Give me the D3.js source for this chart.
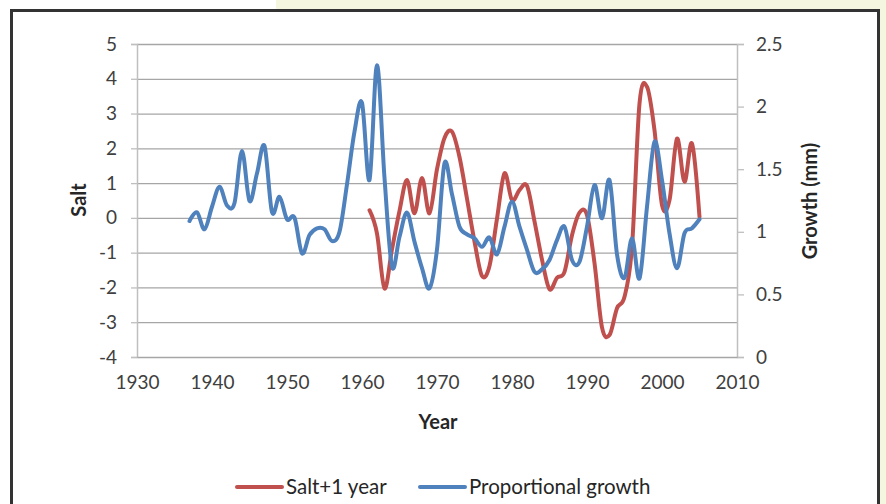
<!DOCTYPE html>
<html><head><meta charset="utf-8">
<script src="https://cdn.jsdelivr.net/npm/d3@7"></script>
<style>
html,body{margin:0;padding:0;background:#fff;}
svg{display:block;font-family:Lato,"Open Sans",sans-serif;}
</style></head>
<body><svg id="c" width="886" height="504"></svg>
<script>
const growthStart = 1937;
const growthValues = [1.086,1.156,1.02,1.20,1.36,1.21,1.23,1.645,1.246,1.467,1.685,1.156,1.28,1.10,1.113,0.828,0.974,1.028,1.02,0.926,1.0,1.38,1.80,2.03,1.414,2.33,1.43,0.72,0.96,1.153,0.92,0.71,0.549,0.86,1.547,1.30,1.04,0.98,0.948,0.88,0.955,0.82,1.041,1.241,1.041,0.855,0.68,0.70,0.775,0.934,1.041,0.775,0.761,1.041,1.374,1.108,1.414,0.82,0.632,0.948,0.628,1.2,1.72,1.414,0.988,0.708,0.988,1.028,1.1];
const saltStart = 1961;
const saltValues = [0.22,-0.45,-2.03,-0.9,0.2,1.09,0.13,1.15,0.13,1.4,2.3,2.48,1.75,0.55,-0.68,-1.67,-1.38,-0.02,1.28,0.51,0.8,0.92,-0.1,-1.2,-2.05,-1.72,-1.55,-0.5,0.15,0.08,-1.3,-3.15,-3.37,-2.6,-2.27,-0.83,3.29,3.77,2.52,0.37,0.51,2.28,1.04,2.14,0.03];
const xTicks = [1930,1940,1950,1960,1970,1980,1990,2000,2010];
const leftTicks = [-4,-3,-2,-1,0,1,2,3,4,5];
const rightTicks = [0,0.5,1,1.5,2,2.5];
const seriesNames = ["Salt+1 year","Proportional growth"];
const colors = ["#c0504d","#4f81bd"];

const svg = d3.select("#c");
// background
svg.append("rect").attr("x",0).attr("y",0).attr("width",886).attr("height",504).attr("fill","#f5f6df");
svg.append("rect").attr("x",0).attr("y",0).attr("width",276).attr("height",12).attr("fill","#fff");
svg.append("rect").attr("x",0).attr("y",0).attr("width",11).attr("height",504).attr("fill","#fff");
svg.append("rect").attr("x",11.5).attr("y",10.5).attr("width",867).attr("height",500)
  .attr("fill","#fff").attr("stroke","#333").attr("stroke-width",3);

const L=137, R=737, T=44, B=357;
const x = d3.scaleLinear().domain([1930,2010]).range([L,R]);
const yL = d3.scaleLinear().domain([-4,5]).range([B,T]);
const yR = d3.scaleLinear().domain([0,2.5]).range([B,T]);

const grid="#a6a6a6", axisC="#bfbfbf", txt="#404040";
// gridlines
svg.append("g").selectAll("line").data(leftTicks.filter(d=>d>-4)).join("line")
  .attr("x1",L).attr("x2",R).attr("y1",d=>yL(d)+0.5).attr("y2",d=>yL(d)+0.5)
  .attr("stroke",grid).attr("stroke-width",1.3);

// axes
const gl = svg.append("g").attr("transform",`translate(${L},0)`)
  .call(d3.axisLeft(yL).tickValues(leftTicks).tickSize(6).tickPadding(14).tickFormat(d=>String(d)));
const gr = svg.append("g").attr("transform",`translate(${R},0)`)
  .call(d3.axisRight(yR).tickValues(rightTicks).tickSize(7).tickPadding(12).tickFormat(d=>String(d)));
const gb = svg.append("g").attr("transform",`translate(0,${B})`)
  .call(d3.axisBottom(x).tickValues(xTicks).tickSize(0).tickPadding(19).tickFormat(d=>String(d)));
[gl,gr,gb].forEach(g=>{
  g.selectAll(".domain").attr("stroke",axisC).attr("stroke-width",1.5);
  g.selectAll(".tick line").attr("stroke",axisC).attr("stroke-width",1.3);
  g.selectAll(".tick text").attr("fill",txt).attr("font-size",19).attr("font-family","Lato,sans-serif");
});
gb.select(".domain").attr("stroke",grid);

const line = (ys)=>d3.line().x(d=>x(d[0])).y(d=>ys(d[1])).curve(d3.curveCardinal.tension(0));
const saltData = saltValues.map((v,i)=>[saltStart+i,v]);
const growthData = growthValues.map((v,i)=>[growthStart+i,v]);
const plot = svg.append("g");
plot.append("path").datum(saltData).attr("d",line(yL)).attr("fill","none")
  .attr("stroke",colors[0]).attr("stroke-width",4).attr("stroke-linejoin","round").attr("stroke-linecap","round");
plot.append("path").datum(growthData).attr("d",line(yR)).attr("fill","none")
  .attr("stroke",colors[1]).attr("stroke-width",4).attr("stroke-linejoin","round").attr("stroke-linecap","round");

// axis titles
svg.append("text").attr("x",438).attr("y",429).attr("text-anchor","middle")
  .attr("font-weight","bold").attr("font-size",20).attr("fill","#262626").text("Year");
svg.append("text").attr("transform","translate(86,200) rotate(-90)").attr("text-anchor","middle")
  .attr("font-weight","bold").attr("font-size",20).attr("fill","#262626").text("Salt");
svg.append("text").attr("transform","translate(817,201) rotate(-90)").attr("text-anchor","middle")
  .attr("font-weight","bold").attr("font-size",20).attr("fill","#262626").text("Growth (mm)");

// legend
const leg = [{x:237,name:seriesNames[0],c:colors[0]},{x:420,name:seriesNames[1],c:colors[1]}];
const lg = svg.append("g").selectAll("g").data(leg).join("g").attr("transform",d=>`translate(${d.x},487)`);
lg.append("line").attr("x1",0).attr("x2",45).attr("y1",0).attr("y2",0).attr("stroke",d=>d.c).attr("stroke-width",4).attr("stroke-linecap","round");
lg.append("text").attr("x",49).attr("y",7).attr("font-size",20.5).attr("fill","#262626").text(d=>d.name);
</script></body></html>
